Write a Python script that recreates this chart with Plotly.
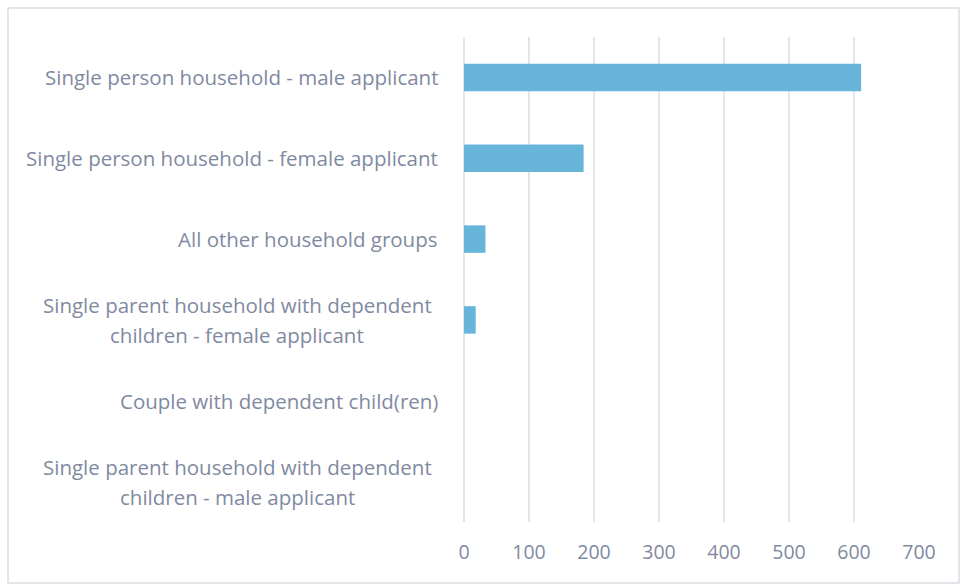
import plotly.graph_objects as go

# Household groups (top to bottom) and number of applicants
categories = [
    "Single person household - male applicant",
    "Single person household - female applicant",
    "All other household groups",
    "Single parent household with dependent<br>children - female applicant",
    "Couple with dependent child(ren)",
    "Single parent household with dependent<br>children - male applicant",
]
values = [611, 184, 33, 18, 0, 0]
x_ticks = [0, 100, 200, 300, 400, 500, 600, 700]

BAR = "#67b6da"
TEXT = "#7f8aa1"
GRID = "#e4e4ec"
FONT = "Open Sans"
LABEL_FONT = dict(family=FONT, size=20.5, color=TEXT)

fig = go.Figure(
    go.Bar(
        x=values,
        y=categories,
        orientation="h",
        marker=dict(color=BAR, line=dict(width=0)),
        hoverinfo="x+y",
    )
)

# Category labels: single lines right-aligned at the axis gap,
# wrapped labels drawn line by line and centred on a common column
annotations = []
line_gap = 30
for cat in categories:
    lines = cat.split("<br>")
    if len(lines) == 1:
        annotations.append(dict(
            x=0, y=cat, xref="x", yref="y", text=cat, showarrow=False,
            xanchor="right", yanchor="middle", xshift=-24, font=LABEL_FONT,
        ))
    else:
        n = len(lines)
        for i, ln in enumerate(lines):
            annotations.append(dict(
                x=0, y=cat, xref="x", yref="y", text=ln, showarrow=False,
                xanchor="center", yanchor="middle", xshift=-227,
                yshift=(n - 1) / 2 * line_gap - i * line_gap, font=LABEL_FONT,
            ))

fig.update_layout(
    width=962,
    height=585,
    margin=dict(l=464, r=43, t=37, b=63),
    paper_bgcolor="white",
    plot_bgcolor="white",
    bargap=0.66,
    showlegend=False,
    annotations=annotations,
    shapes=[
        dict(type="rect", xref="paper", yref="paper",
             x0=-456 / 455, x1=1 + 40 / 455, y0=-61 / 485, y1=1 + 29 / 485,
             line=dict(color="#dcdce4", width=1.5), fillcolor="rgba(0,0,0,0)",
             layer="below"),
    ],
    xaxis=dict(
        range=[0, 700],
        tickvals=x_ticks,
        ticktext=[str(v) for v in x_ticks],
        showgrid=True,
        gridcolor=GRID,
        gridwidth=2,
        zeroline=True,
        zerolinecolor=GRID,
        zerolinewidth=2,
        showline=False,
        ticks="",
        ticklabelstandoff=16,
        tickfont=dict(family=FONT, size=19.5, color=TEXT),
        fixedrange=True,
    ),
    yaxis=dict(
        autorange="reversed",
        showticklabels=False,
        showgrid=False,
        zeroline=False,
        ticks="",
        fixedrange=True,
    ),
)

fig.write_html("out.html")
